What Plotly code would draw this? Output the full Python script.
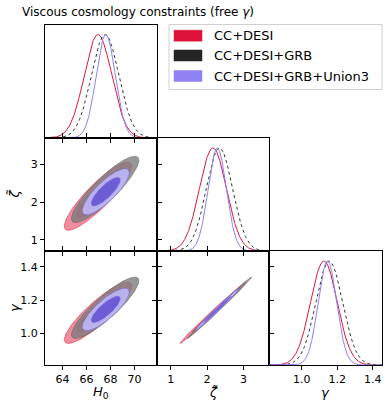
import numpy as np
import plotly.graph_objects as go

# posterior summaries (one entry per data combination)
SERIES = ["CC+DESI", "CC+DESI+GRB", "CC+DESI+GRB+Union3"]

H0_MEAN = [66.95, 67.55, 67.60]
H0_SIG = [1.15, 1.15, 0.80]
ZETA_MEAN = [2.16, 2.34, 2.28]
ZETA_SIG = [0.37, 0.36, 0.25]
GAMMA_MEAN = [1.125, 1.155, 1.145]
GAMMA_SIG = [0.075, 0.075, 0.052]
RHO_H0_ZETA = [0.88, 0.88, 0.82]
RHO_H0_GAMMA = [0.88, 0.88, 0.82]
RHO_ZETA_GAMMA = [0.996, 0.996, 0.994]

H0_TICKS = [64, 66, 68, 70]
ZETA_TICKS = [1, 2, 3]
GAMMA_TICKS = [1.0, 1.2, 1.4]

LEVELS = [5.991, 2.296]  # 95% then 68% (2 dof)

# styling
LINE_COL = ["#e0193f", "#333333", "#8a80ff"]
LINE_DASH = ["solid", "dot", "solid"]
FILL_95 = ["rgb(241,140,156)", "rgba(125,125,125,0.8)", "rgba(190,183,246,0.92)"]
FILL_68 = ["rgb(232,100,120)", "rgba(105,105,105,0.8)", "rgba(104,88,212,0.95)"]
EDGE = ["rgba(220,20,60,0.7)", "rgba(100,100,100,0.8)", "rgba(120,105,230,0.8)"]
LEGEND_COL = ["#dc143c", "#252525", "#8f82f2"]

W, H = 389, 406
COLS = [45, 157, 269, 382]
ROWS = [24.5, 138, 251, 365]

H0_RANGE = [62.53, 71.88]
ZETA_RANGE_X = [0.625, 3.70]
ZETA_RANGE_Y = [0.705, 3.705]
GAMMA_RANGE_X = [0.816, 1.452]
GAMMA_RANGE_Y = [0.812, 1.495]
DIAG_RANGE = [0, 1.097]

FONT = "DejaVu Sans"


def xdom(c):
    return [COLS[c] / W, COLS[c + 1] / W]


def ydom(r):
    return [1 - ROWS[r + 1] / H, 1 - ROWS[r] / H]


def ellipse(mx, my, sx, sy, rho, level):
    cov = np.array([[sx * sx, rho * sx * sy], [rho * sx * sy, sy * sy]])
    L = np.linalg.cholesky(cov)
    t = np.linspace(0, 2 * np.pi, 200)
    pts = L @ np.vstack([np.cos(t), np.sin(t)]) * np.sqrt(level)
    return pts[0] + mx, pts[1] + my


def gauss(x, m, s):
    return np.exp(-0.5 * ((x - m) / s) ** 2)


fig = go.Figure()

# panel -> (axis id, row, col)
panels = {
    "d0": (1, 0, 0),
    "h0z": (2, 1, 0),
    "d1": (3, 1, 1),
    "h0g": (4, 2, 0),
    "zg": (5, 2, 1),
    "d2": (6, 2, 2),
}

means = [H0_MEAN, ZETA_MEAN, GAMMA_MEAN]
sigs = [H0_SIG, ZETA_SIG, GAMMA_SIG]
xranges = [H0_RANGE, ZETA_RANGE_X, GAMMA_RANGE_X]


def ax_ref(i):
    return ("x" if i == 1 else f"x{i}"), ("y" if i == 1 else f"y{i}")


# 2D filled contours
pairs = [("h0z", 0, 1, RHO_H0_ZETA), ("h0g", 0, 2, RHO_H0_GAMMA), ("zg", 1, 2, RHO_ZETA_GAMMA)]
for key, a, b, rho in pairs:
    xa, ya = ax_ref(panels[key][0])
    for k in range(3):
        for lev, fills in zip(LEVELS, [FILL_95, FILL_68]):
            ex, ey = ellipse(means[a][k], means[b][k], sigs[a][k], sigs[b][k], rho[k], lev)
            fig.add_trace(go.Scatter(
                x=ex, y=ey, mode="lines", fill="toself", fillcolor=fills[k],
                line=dict(color=EDGE[k], width=0.7), xaxis=xa, yaxis=ya,
                showlegend=False, hoverinfo="skip",
            ))

# 1D marginals
for key, p in [("d0", 0), ("d1", 1), ("d2", 2)]:
    xa, ya = ax_ref(panels[key][0])
    xs = np.linspace(xranges[p][0], xranges[p][1], 400)
    for k in range(3):
        fig.add_trace(go.Scatter(
            x=xs, y=gauss(xs, means[p][k], sigs[p][k]), mode="lines",
            line=dict(color=LINE_COL[k], width=1, dash=LINE_DASH[k]),
            xaxis=xa, yaxis=ya, showlegend=False, name=SERIES[k],
        ))

base = dict(showline=True, linecolor="black", linewidth=1, mirror=True,
            showgrid=False, zeroline=False, tickfont=dict(family=FONT, size=11, color="black"),
            tickcolor="black", ticklen=4, tickwidth=1)

layout_axes = {}
axis_specs = {
    # key: (xrange, xticks, xlabels, yrange, yticks, ylabels, diag)
    "d0": (H0_RANGE, H0_TICKS, False, DIAG_RANGE, None, False, True),
    "h0z": (H0_RANGE, H0_TICKS, False, ZETA_RANGE_Y, ZETA_TICKS, True, False),
    "d1": (ZETA_RANGE_X, ZETA_TICKS, False, DIAG_RANGE, None, False, True),
    "h0g": (H0_RANGE, H0_TICKS, True, GAMMA_RANGE_Y, GAMMA_TICKS, True, False),
    "zg": (ZETA_RANGE_X, ZETA_TICKS, True, GAMMA_RANGE_Y, GAMMA_TICKS, False, False),
    "d2": (GAMMA_RANGE_X, GAMMA_TICKS, True, DIAG_RANGE, None, False, True),
}
for key, (i, r, c) in panels.items():
    xr, xt, xl, yr, yt, yl, diag = axis_specs[key]
    xname = "xaxis" if i == 1 else f"xaxis{i}"
    yname = "yaxis" if i == 1 else f"yaxis{i}"
    xa, ya = ax_ref(i)
    xd = dict(base, domain=xdom(c), range=xr, anchor=ya, tickvals=xt,
              showticklabels=xl, ticks="outside")
    if not diag:
        xd["mirror"] = "ticks"
    if key == "d2":
        xd["tickformat"] = ".1f"
    yd = dict(base, domain=ydom(r), range=yr, anchor=xa, showticklabels=yl)
    if yt is None:
        yd.update(ticks="", showticklabels=False)
    else:
        yd.update(tickvals=yt, ticks="outside", mirror="ticks")
        if key in ("h0g", "zg"):
            yd["tickformat"] = ".1f"
    layout_axes[xname] = xd
    layout_axes[yname] = yd

annotations = []
# axis titles
lab_font = dict(family=FONT, size=13, color="black")
for c, txt in enumerate(["<i>H</i><sub>0</sub>", "<i>ζ̃</i>", "<i>γ</i>"]):
    annotations.append(dict(text=txt, x=(COLS[c] + COLS[c + 1]) / 2 / W, y=1 - 392 / H,
                            xref="paper", yref="paper", showarrow=False, font=lab_font,
                            xanchor="center", yanchor="middle"))
for r, txt in [(1, "<i>ζ̃</i>"), (2, "<i>γ</i>")]:
    annotations.append(dict(text=txt, x=14 / W, y=1 - (ROWS[r] + ROWS[r + 1]) / 2 / H,
                            xref="paper", yref="paper", showarrow=False, font=lab_font,
                            textangle=-90, xanchor="center", yanchor="middle"))

# legend built by hand so the patches look like the original
shapes = [dict(type="rect", xref="paper", yref="paper", x0=169 / W, x1=382 / W,
               y0=1 - 89.5 / H, y1=1 - 24.5 / H, line=dict(color="#d0d0d0", width=1),
               fillcolor="white", layer="above")]
leg_y = [35.7, 55.5, 76.0]
for k in range(3):
    shapes.append(dict(type="rect", xref="paper", yref="paper", x0=174 / W, x1=202 / W,
                       y0=1 - (leg_y[k] + 5.5) / H, y1=1 - (leg_y[k] - 5.5) / H,
                       line=dict(color=LEGEND_COL[k], width=0.5), fillcolor=LEGEND_COL[k],
                       layer="above"))
    annotations.append(dict(text=SERIES[k], x=212 / W, y=1 - leg_y[k] / H, xref="paper",
                            yref="paper", showarrow=False, xanchor="left", yanchor="middle",
                            font=dict(family=FONT, size=13, color="black")))

fig.update_layout(
    width=W, height=H,
    margin=dict(l=0, r=0, t=0, b=0),
    paper_bgcolor="white", plot_bgcolor="white",
    title=dict(text="Viscous cosmology constraints (free <i>γ</i>)", x=22 / W, xanchor="left",
               y=1 - 12 / H, yanchor="middle", font=dict(family=FONT, size=12, color="black")),
    annotations=annotations,
    shapes=shapes,
    showlegend=False,
    **layout_axes,
)

# the page body has a default 8px margin; drop it so the figure fills the window
fig.write_html("out.html", config={"displayModeBar": False},
               post_script="document.body.style.margin='0';")
